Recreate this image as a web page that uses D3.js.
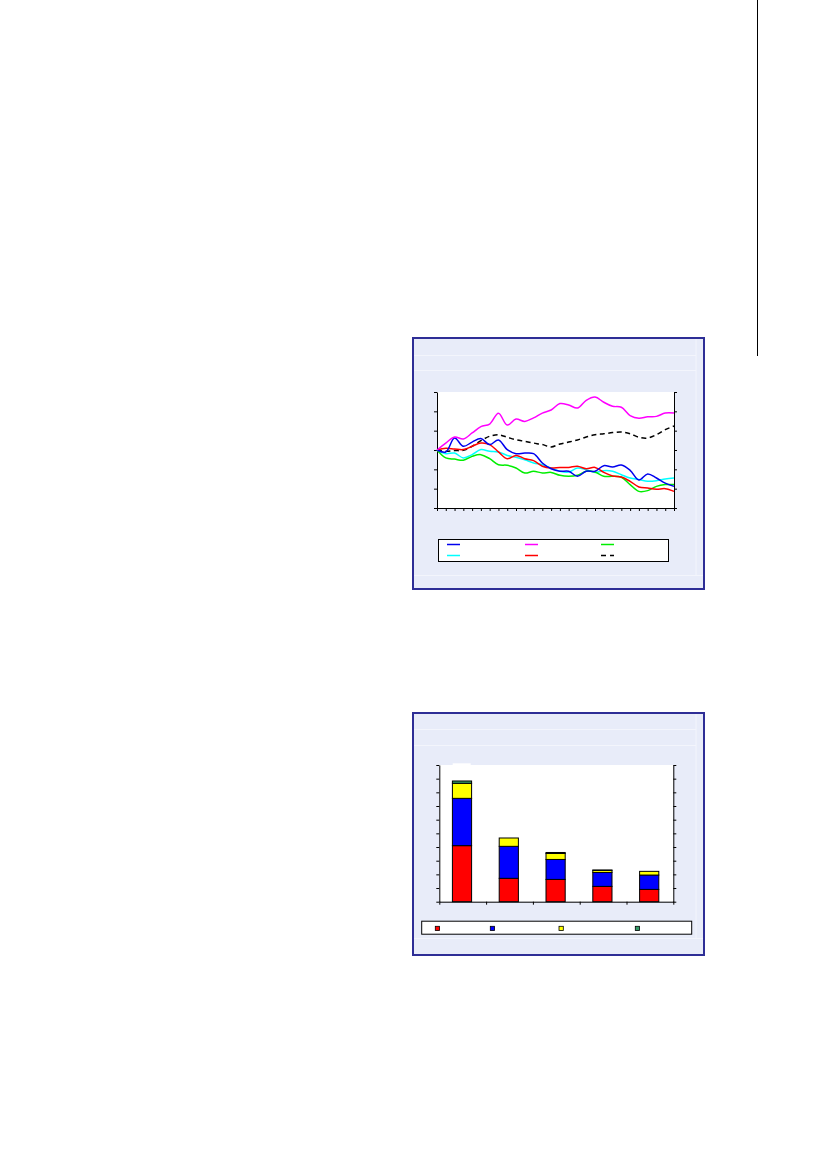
<!DOCTYPE html>
<html lang="en">
<head>
  <meta charset="UTF-8">
  <title>Index and stacked bars</title>
  <style>
    body { margin: 0; background: #fff; }
    svg { display: block; }
  </style>
  <script src="https://d3js.org/d3.v7.min.js"></script>
</head>
<body>
  <div id="page"></div>

  <script>
    // Index series (start = 100), one value per x tick
    const periods = d3.range(28);
    const seriesBlue    = [100, 99.0, 106.2, 101.9, 104.1, 105.9, 102.8, 105.2, 100.2, 98.1, 98.4, 98.1, 93.3, 90.3, 89.0, 89.0, 86.4, 89.0, 89.0, 91.9, 91.2, 92.2, 89.5, 84.5, 87.6, 85.5, 82.9, 81.2];
    const seriesMagenta = [100, 103.6, 106.7, 105.7, 108.8, 112.1, 113.4, 119.0, 112.9, 116.0, 114.8, 116.6, 119.1, 120.7, 124.0, 123.3, 121.7, 125.7, 127.4, 124.7, 122.6, 122.1, 117.8, 116.4, 117.2, 117.4, 119.1, 119.1];
    const seriesGreen   = [100, 95.9, 95.3, 94.7, 96.7, 97.6, 95.5, 92.4, 92.1, 90.7, 88.1, 89.0, 88.1, 88.4, 86.9, 86.4, 86.9, 89.0, 88.6, 86.4, 86.4, 85.9, 82.1, 78.6, 79.0, 81.2, 82.1, 82.1];
    const seriesCyan    = [100, 98.1, 98.4, 95.9, 97.6, 100.2, 99.3, 99.0, 97.2, 96.2, 95.0, 93.3, 92.4, 90.7, 89.0, 88.6, 90.7, 89.8, 88.4, 89.3, 89.0, 87.2, 85.5, 84.7, 83.8, 84.1, 85.0, 85.5];
    const seriesRed     = [100, 100.9, 100.5, 100.2, 101.9, 103.6, 102.8, 99.0, 95.5, 97.2, 95.5, 94.5, 91.6, 90.7, 91.0, 91.0, 91.6, 90.3, 91.0, 88.4, 86.6, 86.0, 83.8, 80.9, 80.3, 79.7, 80.0, 78.6];
    const seriesBlack   = [100, 99.3, 99.7, 99.8, 101.9, 104.8, 107.1, 107.9, 106.6, 105.3, 104.5, 103.6, 102.8, 101.6, 103.1, 104.1, 105.2, 106.7, 107.9, 108.4, 109.0, 109.3, 108.4, 106.6, 106.2, 107.9, 110.5, 112.4];
    const indexTicks = [70, 80, 90, 100, 110, 120, 130];

    // Stacked bars
    const barCategories = ['c1', 'c2', 'c3', 'c4', 'c5'];
    const barRed    = [41.0, 17.1, 16.3, 11.2, 9.0];
    const barBlue   = [34.6, 23.4, 14.6, 10.2, 10.5];
    const barYellow = [11.0, 6.1, 4.4, 1.5, 2.7];
    const barGreen  = [1.7, 0.0, 0.7, 0.3, 0.0];
    const barTicks = d3.range(0, 101, 10);

    const W = 826, H = 1169;
    const panelFill = '#e8ecf9';
    const panelEdge = '#2e2e96';
    const bandLine = '#f3f5fc';

    const svg = d3.select('#page').append('svg')
      .attr('width', W)
      .attr('height', H);

    // thin rule at the top right of the page
    svg.append('line')
      .attr('x1', 757.5).attr('x2', 757.5)
      .attr('y1', 0).attr('y2', 356)
      .attr('stroke', '#000')
      .attr('stroke-width', 1);

    function panel(x, y, w, h, bands, bottomBand) {
      const g = svg.append('g');
      g.append('rect')
        .attr('x', x).attr('y', y)
        .attr('width', w).attr('height', h)
        .attr('fill', panelFill)
        .attr('stroke', panelEdge)
        .attr('stroke-width', 2);
      bands.forEach(by => {
        g.append('line')
          .attr('x1', x + 1).attr('x2', x + w - 8)
          .attr('y1', by).attr('y2', by)
          .attr('stroke', bandLine);
      });
      g.append('line')
        .attr('x1', x + 1).attr('x2', x + w - 1)
        .attr('y1', bottomBand).attr('y2', bottomBand)
        .attr('stroke', bandLine);
      g.append('line')
        .attr('x1', x + w - 8).attr('x2', x + w - 8)
        .attr('y1', y + 1).attr('y2', bottomBand)
        .attr('stroke', bandLine);
      return g;
    }

    // ---------- Line chart ----------
    panel(413, 338, 291, 251, [355.5, 370.5], 575.5);

    const lx = d3.scaleLinear().domain([0, 27]).range([437, 674]);
    const ly = d3.scaleLinear().domain([70, 130]).range([508, 392]);

    const lineG = svg.append('g');
    lineG.append('rect')
      .attr('x', 437).attr('y', 392)
      .attr('width', 237).attr('height', 116)
      .attr('fill', '#fff');

    lineG.append('g')
      .attr('transform', 'translate(437,0)')
      .call(d3.axisLeft(ly).tickValues(indexTicks).tickSize(3).tickSizeOuter(0).tickFormat(''));
    lineG.append('g')
      .attr('transform', 'translate(674,0)')
      .call(d3.axisRight(ly).tickValues(indexTicks).tickSize(3).tickSizeOuter(0).tickFormat(''));
    lineG.append('g')
      .attr('transform', 'translate(0,508)')
      .call(d3.axisBottom(lx).tickValues(periods).tickSize(3).tickSizeOuter(0).tickFormat(''));
    lineG.selectAll('.domain, .tick line').attr('stroke', '#000');

    const series = [
      { values: seriesBlue, color: '#0000ee', dash: null },
      { values: seriesMagenta, color: '#ff00ff', dash: null },
      { values: seriesGreen, color: '#00ee00', dash: null },
      { values: seriesCyan, color: '#00ffff', dash: null },
      { values: seriesRed, color: '#ff0000', dash: null },
      { values: seriesBlack, color: '#000', dash: '5,3.5' }
    ];

    const line = d3.line()
      .x((d, i) => lx(periods[i]))
      .y(d => ly(d))
      .curve(d3.curveCatmullRom.alpha(0.5));

    // draw the black dashed line first, then the solid ones on top
    const drawOrder = [5, 3, 2, 4, 0, 1];
    drawOrder.forEach(k => {
      const s = series[k];
      lineG.append('path')
        .datum(s.values)
        .attr('d', line)
        .attr('fill', 'none')
        .attr('stroke', s.color)
        .attr('stroke-width', 1.5)
        .attr('stroke-dasharray', s.dash);
    });

    // legend
    const lineLegend = svg.append('g');
    lineLegend.append('rect')
      .attr('x', 438.5).attr('y', 539.5)
      .attr('width', 230).attr('height', 22)
      .attr('fill', '#fff')
      .attr('stroke', '#000');
    const legCols = [447, 525, 601];
    const legRows = [544.5, 555.5];
    series.forEach((s, i) => {
      const cx = legCols[i % 3];
      const cy = legRows[Math.floor(i / 3)];
      lineLegend.append('line')
        .attr('x1', cx).attr('x2', cx + 13)
        .attr('y1', cy).attr('y2', cy)
        .attr('stroke', s.color)
        .attr('stroke-width', 1.5)
        .attr('stroke-dasharray', s.dash ? '5,4' : null);
    });

    // ---------- Stacked bar chart ----------
    panel(413, 713, 291, 242, [729.5, 745.5], 938.5);

    const bx = d3.scaleBand().domain(barCategories).range([439.3, 673.3]).padding(0);
    const by = d3.scaleLinear().domain([0, 100]).range([901.7, 765]);
    const barW = bx.step() * 0.41;

    const barG = svg.append('g');
    barG.append('rect')
      .attr('x', 439.3).attr('y', 765)
      .attr('width', 234).attr('height', 136.7)
      .attr('fill', '#fff');
    // small white tab above the plot area
    barG.append('rect')
      .attr('x', 452.7).attr('y', 763.3)
      .attr('width', 18).attr('height', 2)
      .attr('fill', '#fff');

    const barRows = barCategories.map((c, i) => ({
      cat: c, red: barRed[i], blue: barBlue[i], yellow: barYellow[i], green: barGreen[i]
    }));
    const barKeys = ['red', 'blue', 'yellow', 'green'];
    const barColors = { red: '#ff0000', blue: '#0000ff', yellow: '#ffff00', green: '#339966' };
    const stacked = d3.stack().keys(barKeys)(barRows);

    barG.selectAll('g.layer')
      .data(stacked)
      .enter()
      .append('g')
      .attr('class', 'layer')
      .attr('fill', d => barColors[d.key])
      .selectAll('rect')
      .data(d => d.filter(p => p[1] - p[0] > 0))
      .enter()
      .append('rect')
      .attr('x', d => bx(d.data.cat) + (bx.step() - barW) / 2 - 0.7)
      .attr('y', d => by(d[1]))
      .attr('width', barW)
      .attr('height', d => by(d[0]) - by(d[1]))
      .attr('stroke', '#000')
      .attr('stroke-width', 1);

    barG.append('g')
      .attr('transform', 'translate(439.3,0)')
      .call(d3.axisLeft(by).tickValues(barTicks).tickSize(3).tickSizeOuter(0).tickFormat(''));
    barG.append('g')
      .attr('transform', 'translate(673.3,0)')
      .call(d3.axisRight(by).tickValues(barTicks).tickSize(3).tickSizeOuter(0).tickFormat(''));
    const bandEdges = barCategories.map(c => bx(c)).concat([673.3]);
    barG.append('g')
      .attr('transform', 'translate(0,901.7)')
      .call(d3.axisBottom(d3.scaleLinear().domain([439.3, 673.3]).range([439.3, 673.3]))
        .tickValues(bandEdges).tickSize(3).tickSizeOuter(0).tickFormat(''));
    barG.selectAll('.domain, .tick line').attr('stroke', '#000');

    // legend
    const barLegend = svg.append('g');
    barLegend.append('rect')
      .attr('x', 421.7).attr('y', 921.2)
      .attr('width', 270).attr('height', 13)
      .attr('fill', '#fff')
      .attr('stroke', '#000');
    const barLegX = [435.3, 490.3, 559, 635.3];
    barKeys.forEach((k, i) => {
      barLegend.append('rect')
        .attr('x', barLegX[i]).attr('y', 926.3)
        .attr('width', 4.3).attr('height', 4.3)
        .attr('fill', barColors[k])
        .attr('stroke', '#000')
        .attr('stroke-width', 0.8);
    });
  </script>
</body>
</html>
